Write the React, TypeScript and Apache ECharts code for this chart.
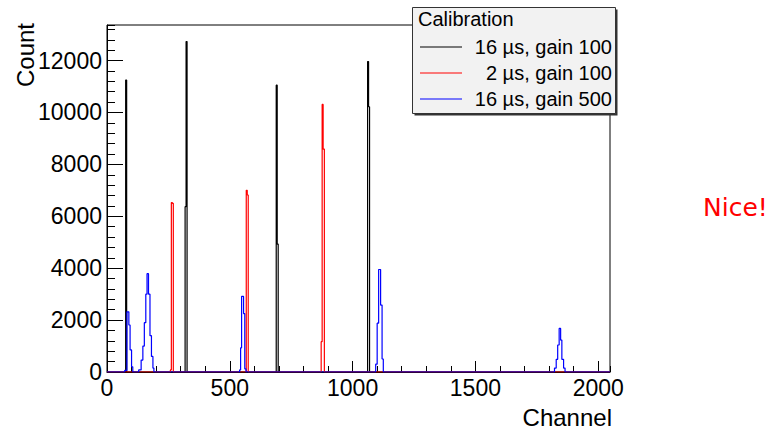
import React, { useEffect, useRef } from "react";
import * as echarts from "echarts";

// ---- data ----
const X_MAX = 2048;
const Y_MAX = 13370;
const xMajorInterval = 500;
const xMinorInterval = 100;
const yMajorInterval = 2000;
const yMinorInterval = 400;

const legendTitle = "Calibration";
const seriesNames = ["16 µs, gain 100", "2 µs, gain 100", "16 µs, gain 500"];
const seriesColors = ["#000000", "#ff0000", "#0000ff"];

// [bin low edge (channel), count]
const black16usGain100: [number, number][] = [
  [0, 0], [76, 11250], [80, 0],
  [318, 6370], [322, 12730], [326, 0],
  [689, 11050], [693, 4930], [697, 0],
  [1061, 11960], [1065, 10220], [1069, 0],
  [2048, 0],
];

const red2usGain100: [number, number][] = [
  [0, 0], [258, 80], [262, 6530], [266, 6500], [270, 0],
  [567, 7000], [571, 6820], [575, 0],
  [872, 1170], [876, 10310], [880, 8590], [885, 0],
  [2048, 0],
];

const blue16usGain500: [number, number][] = [
  [0, 0], [72, 60], [81, 2320], [89, 1810], [94, 850], [100, 200], [105, 0],
  [129, 80], [139, 460], [146, 1000], [152, 1900], [158, 3000], [163, 3790], [169, 3000],
  [175, 1400], [181, 600], [187, 150], [191, 0],
  [540, 80], [544, 930], [548, 2910], [556, 2250], [561, 120], [566, 0],
  [1094, 300], [1100, 1880], [1106, 3950], [1114, 2580], [1120, 500], [1125, 0],
  [1822, 150], [1829, 490], [1835, 1040], [1841, 1680], [1847, 1230], [1852, 490], [1859, 150], [1865, 0],
  [2048, 0],
];

const seriesData = [black16usGain100, red2usGain100, blue16usGain500];

const FONT = "'Liberation Sans', Arial, Helvetica, sans-serif";

export default function App() {
  const ref = useRef<HTMLDivElement>(null);

  useEffect(() => {
    if (!ref.current) return;
    const chart = echarts.init(ref.current, undefined, { renderer: "svg" });

    const gridLeft = 107;
    const gridTop = 25;
    const gridWidth = 503;
    const gridHeight = 347;

    const legendX = 412.5;
    const legendY = 7.5;
    const legendW = 203;
    const legendH = 106;
    const rowYs = [47, 73, 99];

    const legendGraphics: any[] = [
      {
        type: "rect",
        z: 50,
        shape: { x: legendX + 2, y: legendY + 2, width: legendW, height: legendH },
        style: { fill: "#333333" },
      },
      {
        type: "rect",
        z: 51,
        shape: { x: legendX, y: legendY, width: legendW, height: legendH },
        style: { fill: "#f2f2f2", stroke: "#333333", lineWidth: 1 },
      },
      {
        type: "text",
        z: 52,
        x: 418,
        y: 18.5,
        style: {
          text: legendTitle,
          fontSize: 20,
          fontFamily: FONT,
          fill: "#000",
          align: "left",
          verticalAlign: "middle",
        },
      },
    ];
    seriesNames.forEach((name, i) => {
      legendGraphics.push({
        type: "line",
        z: 52,
        shape: { x1: 420, y1: rowYs[i], x2: 462, y2: rowYs[i] },
        style: { stroke: seriesColors[i], lineWidth: 1.2 },
      });
      legendGraphics.push({
        type: "text",
        z: 52,
        x: 612,
        y: rowYs[i],
        style: {
          text: name,
          fontSize: 20,
          fontFamily: FONT,
          fill: "#000",
          align: "right",
          verticalAlign: "middle",
        },
      });
    });

    const option: any = {
      animation: false,
      backgroundColor: "#ffffff",
      grid: {
        left: gridLeft,
        top: gridTop,
        width: gridWidth,
        height: gridHeight,
        show: true,
        borderColor: "#000",
        borderWidth: 1,
        backgroundColor: "transparent",
      },
      xAxis: [
        {
          type: "value",
          min: 0,
          max: X_MAX,
          interval: xMajorInterval,
          position: "bottom",
          splitLine: { show: false },
          axisLine: { show: true, lineStyle: { color: "#000", width: 1 } },
          axisTick: { show: true, inside: true, length: 11, lineStyle: { color: "#000" } },
          axisLabel: {
            show: true,
            showMaxLabel: false,
            margin: 4,
            fontSize: 23,
            fontFamily: FONT,
            color: "#000",
            formatter: (v: number) => (v % xMajorInterval === 0 ? String(v) : ""),
          },
          name: "Channel",
          nameLocation: "end",
          nameGap: 2,
          nameTextStyle: {
            fontSize: 24,
            fontFamily: FONT,
            color: "#000",
            align: "right",
            verticalAlign: "top",
            padding: [33, 0, 0, 0],
          },
        },
        {
          type: "value",
          min: 0,
          max: X_MAX,
          interval: xMinorInterval,
          position: "bottom",
          splitLine: { show: false },
          axisLine: { show: false },
          axisTick: { show: true, inside: true, length: 6, lineStyle: { color: "#000" } },
          axisLabel: { show: false },
        },
      ],
      yAxis: [
        {
          type: "value",
          min: 0,
          max: Y_MAX,
          interval: yMajorInterval,
          position: "left",
          splitLine: { show: false },
          axisLine: { show: true, lineStyle: { color: "#000", width: 1 } },
          axisTick: { show: true, inside: true, length: 16, lineStyle: { color: "#000" } },
          axisLabel: {
            show: true,
            showMaxLabel: false,
            margin: 5,
            fontSize: 23,
            fontFamily: FONT,
            color: "#000",
            formatter: (v: number) => (v % yMajorInterval === 0 ? String(v) : ""),
          },
        },
        {
          type: "value",
          min: 0,
          max: Y_MAX,
          interval: yMinorInterval,
          position: "left",
          splitLine: { show: false },
          axisLine: { show: false },
          axisTick: { show: true, inside: true, length: 8, lineStyle: { color: "#000" } },
          axisLabel: { show: false },
        },
      ],
      series: seriesData.map((data, i) => ({
        name: seriesNames[i],
        type: "line",
        step: "end",
        xAxisIndex: 0,
        yAxisIndex: 0,
        data,
        symbol: "none",
        showSymbol: false,
        silent: true,
        lineStyle: { color: seriesColors[i], width: 1.2 },
        itemStyle: { color: seriesColors[i] },
      })),
      graphic: [
        ...legendGraphics,
        {
          type: "text",
          z: 52,
          x: 25,
          y: 23,
          rotation: Math.PI / 2,
          style: {
            text: "Count",
            fontSize: 24,
            fontFamily: FONT,
            fill: "#000",
            align: "right",
            verticalAlign: "middle",
          },
        },
        {
          type: "text",
          z: 52,
          x: 703,
          y: 207,
          style: {
            text: "Nice!",
            fontSize: 25,
            fontFamily: "'DejaVu Sans', sans-serif",
            fill: "#ff0000",
            align: "left",
            verticalAlign: "middle",
          },
        },
      ],
    };

    chart.setOption(option);
    return () => chart.dispose();
  }, []);

  return (
    <div
      ref={ref}
      style={{ position: "fixed", left: 0, top: 0, width: 771, height: 432, background: "#fff" }}
    />
  );
}
